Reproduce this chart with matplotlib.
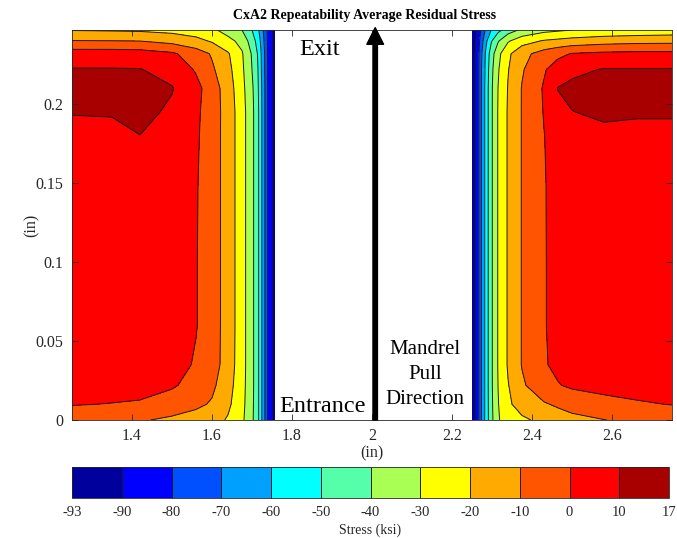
import numpy as np
import matplotlib
matplotlib.use("Agg")
import matplotlib.pyplot as plt

plt.rcParams['font.family'] = ['Liberation Serif', 'DejaVu Serif']
plt.rcParams['axes.unicode_minus'] = False

# ---------------- data ----------------
TITLE = "CxA2 Repeatability Average Residual Stress"
LEVELS = [-93, -90, -80, -70, -60, -50, -40, -30, -20, -10, 0, 10, 17]
COLORS = ["#00009c", "#0000ff", "#0050ff", "#00a0ff", "#00ffff", "#55ffaa",
          "#aaff55", "#ffff00", "#ffaa00", "#ff5500", "#ff0000", "#a80000"]

Y_ROWS = [0, 0.01, 0.022, 0.035, 0.06, 0.10, 0.15, 0.18, 0.195, 0.21, 0.222, 0.232, 0.24, 0.247]

X_LEFT = [1.25, 1.35, 1.42, 1.50, 1.56, 1.60, 1.64, 1.675, 1.70, 1.715, 1.73, 1.745, 1.758]
STRESS_LEFT = [
    [-6, -7.5, -9, -12, -14, -16, -21, -28, -38, -48, -67, -88, -93],
    [0.5, -0.3, -1, -4, -8, -11, -18, -27, -37.5, -48, -67, -88, -93],
    [4, 4, 3.5, 1, -3, -8, -16, -26.5, -37, -48, -67, -88, -93],
    [5.5, 6, 6, 4, -1, -5.5, -14.5, -26, -37, -48, -67, -88, -93],
    [6, 6.5, 7, 5, 0.5, -5.5, -14, -26, -37, -48, -67, -88, -93],
    [6, 6.5, 7, 5, 0.5, -5.5, -14, -26, -37, -48, -67, -88, -93],
    [6.5, 7, 7.5, 5.5, 0.8, -5.5, -14, -26, -37, -48, -67, -88, -93],
    [8, 8.5, 9.9, 7, 1.5, -5.5, -14, -26, -37, -48, -67, -88, -93],
    [10.3, 10.4, 12.5, 8.5, 2, -5.3, -14, -26, -37, -48, -67, -88, -93],
    [13, 13.5, 13.5, 10.5, 3, -5, -15, -27, -38, -49, -67, -88, -93],
    [10.5, 10.5, 10.3, 7, -1, -8.5, -17, -28, -40, -50, -68, -88, -93],
    [5, 5, 4.5, 1.5, -5, -11, -19, -29, -41, -51, -68, -88, -93],
    [-9.5, -9.7, -10, -13, -17, -21, -27, -33, -45, -54, -70, -88, -93],
    [-20.5, -21, -21.5, -23, -25, -28, -34, -40, -50, -58, -72, -88, -93],
]

X_RIGHT = [2.252, 2.262, 2.272, 2.285, 2.298, 2.315, 2.34, 2.375, 2.43, 2.465, 2.50, 2.58, 2.66, 2.75]
STRESS_RIGHT = [
    [-93, -88, -72, -56, -43, -31, -25, -22, -17, -15, -13, -10.2, -8, -6],
    [-93, -88, -72, -56, -42.5, -30.5, -22, -15, -11, -8.5, -6, -3, -1, 0.3],
    [-93, -88, -72, -56, -42, -30, -20.5, -11.5, -3, -0.5, 1.5, 3, 3.5, 3.5],
    [-93, -88, -72, -56, -42, -29.5, -19, -9.5, -0.8, 2, 4, 5.5, 5.5, 5],
    [-93, -88, -72, -56, -42, -29.5, -19, -9.5, -0.5, 2.5, 5, 6.5, 6.5, 6],
    [-93, -88, -72, -56, -42, -29.5, -19, -9.5, -0.5, 2.5, 5, 6.5, 6.5, 6],
    [-93, -88, -72, -56, -42, -29.5, -19, -9.5, -0.5, 3, 5.5, 7, 7, 6.5],
    [-93, -88, -72, -56, -42, -29.5, -19, -9.5, -0.2, 4, 6.5, 8, 7.5, 7.5],
    [-93, -88, -72, -56, -42, -29.5, -19, -9.5, 0.5, 7, 9.8, 11.5, 11, 11],
    [-93, -88, -72, -56, -42, -30, -19.5, -9.5, 1, 10.3, 12, 13, 13.5, 13.5],
    [-93, -88, -72, -57, -43, -31, -20.5, -11, -1, 5, 8, 10.5, 10.5, 10.5],
    [-93, -88, -73, -58, -45, -33, -22, -13, -6, -2.5, 0.5, 2, 2.5, 2.5],
    [-93, -89, -76, -62, -51, -41, -31, -24, -19, -17.5, -16, -14, -13, -12.7],
    [-93, -90, -80, -68, -60, -53, -45, -38, -33, -31.5, -30, -28, -27, -26],
]

X_TICKS = [1.4, 1.6, 1.8, 2.0, 2.2, 2.4, 2.6]
X_TICK_LABELS = ["1.4", "1.6", "1.8", "2", "2.2", "2.4", "2.6"]
Y_TICKS = [0, 0.05, 0.1, 0.15, 0.2]
Y_TICK_LABELS = ["0", "0.05", "0.1", "0.15", "0.2"]

# ---------------- figure ----------------
fig = plt.figure(figsize=(6.77, 5.38), dpi=100)
ax = fig.add_axes([72 / 677, 118 / 538, 600 / 677, 390 / 538])

for xs, zs in ((X_LEFT, STRESS_LEFT), (X_RIGHT, STRESS_RIGHT)):
    X, Y = np.meshgrid(np.array(xs), np.array(Y_ROWS))
    Z = np.array(zs, dtype=float)
    cf = ax.contourf(X, Y, Z, levels=LEVELS, colors=COLORS)
    ax.contour(X, Y, Z, levels=LEVELS[1:-1], colors='#1a1a1a', linewidths=0.7,
               linestyles='solid', negative_linestyles='solid')

ax.set_xlim(1.25, 2.75)
ax.set_ylim(0, 0.247)
ax.set_xticks(X_TICKS)
ax.set_xticklabels(X_TICK_LABELS)
ax.set_yticks(Y_TICKS)
ax.set_yticklabels(Y_TICK_LABELS)
ax.tick_params(direction='in', length=4, width=0.6, labelsize=11.5, colors='#262626',
               top=True, right=True, pad=6)
for s in ax.spines.values():
    s.set_color('#262626')
    s.set_linewidth(0.6)
ax.set_xlabel("(in)", fontsize=11.5, color='#262626', labelpad=1)
ax.set_ylabel("(in)", fontsize=11.5, color='#262626', labelpad=-3)

fig.text(365 / 677, 1 - 16 / 538, TITLE, ha='center', va='center',
         fontsize=10, fontweight='bold')

# annotations
ax.annotate('', xy=(2.008, 0.2485), xytext=(2.008, 0.0),
            arrowprops=dict(facecolor='black', edgecolor='black', width=3.2,
                            headwidth=12, headlength=12, shrink=0),
            annotation_clip=False)
ax.text(1.868, 0.2345, "Exit", ha='center', va='center', fontsize=17.5)
ax.text(1.8775, 0.0085, "Entrance", ha='center', va='center', fontsize=17.5)
ax.text(2.133, 0.029, "Mandrel\nPull\nDirection", ha='center', va='center',
        fontsize=15, linespacing=1.42)

# colorbar
cax = fig.add_axes([72 / 677, 40 / 538, 597 / 677, 31 / 538])
cb = fig.colorbar(cf, cax=cax, orientation='horizontal', spacing='uniform',
                  ticks=LEVELS, drawedges=True)
cb.set_ticklabels([str(v) for v in LEVELS])
cb.outline.set_edgecolor('#262626')
cb.outline.set_linewidth(0.6)
cb.dividers.set_color('#1a1a1a')
cb.dividers.set_linewidth(0.7)
cax.tick_params(length=0, labelsize=10.5, colors='#262626', pad=6)
cb.set_label("Stress (ksi)", fontsize=10, color='#262626', labelpad=3)

fig.savefig("out.png", dpi=100)
